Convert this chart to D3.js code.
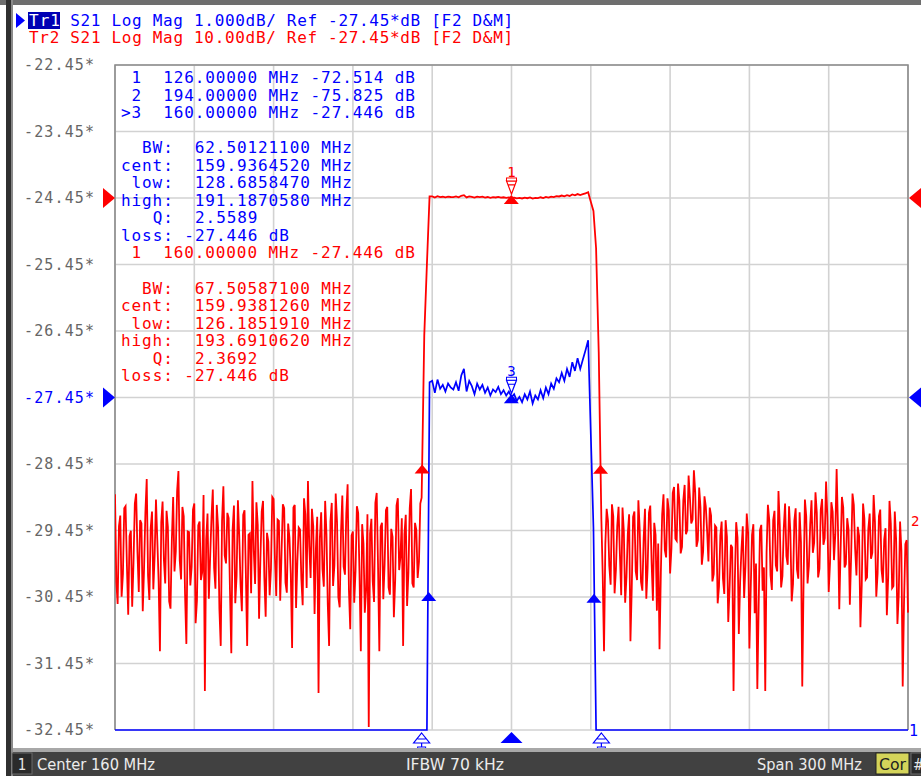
<!DOCTYPE html>
<html>
<head>
<meta charset="utf-8">
<script src="https://cdn.jsdelivr.net/npm/d3@7"></script>
<style>
body { margin: 0; background: #fff; }
svg text { white-space: pre; }
</style>
</head>
<body>
<script>
// sweep 10..310 MHz (center 160, span 300); stop bands read at 0.5 MHz, pass band at 1 MHz
var noiseStep = 0.5, passStep = 1;
var lowStart = 10, riseStart = 126, passStart = 129, fallStart = 190, highStart = 194.5;

// S21 in dB
var s21Low = [
  -72.0, -85.2, -88.5, -76.8, -75.2, -87.4, -84.0, -74.1, -73.8, -82.6,
  -90.1, -78.3, -77.5, -88.9, -82.3, -73.4, -71.9, -80.7, -86.7, -75.9,
  -76.4, -89.6, -83.1, -74.7, -69.7, -84.2, -87.9, -77.1, -74.6, -86.3,
  -81.2, -72.8, -78.8, -85.0, -95.6, -76.2, -73.1, -81.9, -85.4, -74.5,
  -76.9, -88.1, -89.2, -79.0, -72.4, -83.6, -80.6, -71.5, -68.5, -82.0,
  -84.8, -73.9, -75.3, -87.0, -94.5, -77.6, -77.7, -85.7, -82.9, -74.3,
  -73.4, -91.4, -88.0, -76.7, -76.1, -84.9, -83.7, -72.1, -101.6, -78.8,
  -74.9, -87.7, -81.5, -75.5, -71.3, -83.1, -86.2, -73.6, -77.0, -89.3,
  -94.8, -76.0, -70.8, -81.2, -82.4, -74.8, -75.6, -86.6, -95.9, -77.3,
  -73.7, -88.4, -84.3, -72.9, -78.2, -85.6, -89.6, -75.1, -74.4, -83.8,
  -94.8, -78.1, -77.9, -86.9, -70.0, -80.5, -85.5, -73.2, -76.6, -90.7,
  -81.8, -74.6, -73.0, -84.5, -90.4, -77.8, -79.1, -87.2, -83.2, -72.4,
  -72.7, -81.6, -87.3, -75.8, -76.0, -88.0, -80.9, -73.5, -74.1, -85.3,
  -86.8, -76.4, -78.5, -83.9, -95.1, -74.0, -73.6, -89.1, -82.0, -77.0,
  -77.3, -84.7, -88.7, -72.6, -75.0, -86.1, -70.0, -79.8, -84.6, -74.2,
  -76.8, -90.0, -80.2, -75.4, -101.9, -78.6, -74.7, -83.3, -85.9, -73.0,
  -78.0, -88.6, -94.8, -76.1, -73.3, -85.8, -82.7, -71.9, -76.2, -87.5,
  -89.0, -77.7, -72.2, -82.9, -84.1, -74.9, -70.5, -86.4, -92.3, -78.2,
  -77.6, -88.3, -83.5, -73.8, -74.8, -84.0, -95.6, -76.5, -79.4, -89.8,
  -86.4, -75.0, -107.0, -77.9, -75.7, -85.1, -88.2, -73.3, -71.8, -82.5,
  -95.6, -76.9, -76.3, -87.8, -82.6, -74.4, -73.9, -86.0, -87.1, -77.2,
  -78.4, -90.5, -84.9, -73.7, -72.6, -83.4, -81.4, -75.6, -94.8, -78.0,
  -75.1, -88.8, -83.8, -74.1, -71.2, -85.4, -86.0, -76.3, -77.4, -84.6,
  -82.1, -73.4
];
var s21Rise = [-72.514, -48.1, -37.4];
var s21Pass = [
  -27.22, -27.20, -27.38, -27.18, -27.32, -27.26, -27.36, -27.24, -27.30, -27.33,
  -27.22, -27.35, -27.12, -27.02, -27.36, -27.20, -27.28, -27.40, -27.24, -27.33,
  -27.26, -27.38, -27.30, -27.42, -27.33, -27.37, -27.29, -27.40, -27.34, -27.42,
  -27.36, -27.446, -27.40, -27.50, -27.44, -27.52, -27.40, -27.48, -27.36, -27.54,
  -27.42, -27.48, -27.34, -27.46, -27.30, -27.40, -27.24, -27.32, -27.16, -27.22,
  -27.08, -27.20, -27.02, -27.14, -26.92, -27.05, -26.86, -27.02, -26.88, -26.74,
  -26.59
];
var s21Fall = [-28.0, -29.4, -35.0, -50.6, -75.825];
var s21High = [
  -84.0, -95.6, -79.5, -74.2, -76.0, -82.8, -85.6, -73.5, -75.3, -86.9,
  -83.4, -76.8, -73.9, -81.0, -87.2, -74.0, -77.6, -88.3, -84.4, -77.9,
  -75.0, -94.1, -86.0, -75.4, -74.6, -83.6, -84.9, -72.9, -77.3, -85.2,
  -86.5, -78.6, -74.2, -87.7, -83.0, -74.8, -73.7, -82.2, -88.0, -76.3,
  -78.1, -89.5, -79.4, -95.3, -83.8, -75.0, -72.0, -80.4, -81.5, -72.6,
  -74.4, -83.9, -80.2, -71.8, -70.9, -78.7, -79.0, -70.4, -73.0, -80.9,
  -79.9, -72.9, -70.6, -78.0, -77.4, -69.2, -72.5, -76.4, -75.8, -68.4,
  -71.7, -79.9, -78.9, -71.0, -74.0, -82.6, -80.6, -72.3, -73.8, -77.5,
  -82.1, -74.0, -75.2, -85.1, -84.0, -76.7, -77.0, -88.4, -85.9, -78.2,
  -76.1, -84.7, -87.0, -75.9, -78.4, -91.2, -86.2, -79.6, -80.0, -101.6,
  -84.8, -76.2, -78.5, -93.0, -85.1, -80.3, -76.8, -87.6, -82.9, -74.9,
  -77.7, -95.2, -86.3, -78.1, -76.5, -89.9, -82.4, -101.3, -88.9, -77.4,
  -76.6, -86.5, -83.0, -101.6, -80.7, -73.6, -75.8, -84.2, -86.4, -75.9,
  -74.5, -82.7, -83.6, -71.5, -76.7, -86.0, -84.3, -77.1, -73.4, -81.3,
  -82.6, -73.8, -77.8, -88.1, -85.5, -76.0, -74.1, -83.3, -84.7, -74.7,
  -79.2, -100.9, -85.0, -72.8, -75.3, -85.4, -82.8, -76.5, -72.9, -80.8,
  -79.3, -71.7, -74.8, -84.5, -83.2, -74.3, -72.7, -79.6, -78.6, -70.1,
  -75.4, -86.7, -82.3, -73.2, -74.6, -81.9, -78.0, -68.2, -76.9, -89.3,
  -80.4, -72.4, -74.0, -83.0, -82.5, -75.6, -77.3, -88.6, -81.1, -71.9,
  -73.6, -80.2, -84.2, -76.9, -78.3, -92.0, -85.7, -73.4, -75.7, -84.8,
  -84.5, -77.2, -74.9, -81.7, -80.8, -72.1, -76.2, -87.4, -83.9, -75.3,
  -74.3, -83.4, -85.3, -78.8, -77.1, -90.2, -84.6, -73.0, -76.4, -86.1,
  -85.8, -74.6, -78.7, -91.5, -87.1, -76.1, -80.5, -100.9, -88.2, -79.5,
  -78.9, -89.8
];

var yTickLabels = ["-22.45*", "-23.45*", "-24.45*", "-25.45*", "-26.45*", "-27.45*",
                   "-28.45*", "-29.45*", "-30.45*", "-31.45*", "-32.45*"];

var tr1Markers = [126, 194, 160];          // marker 3 active
var tr1Bw = [128.6858470, 191.1870580, 159.9364520];
var tr2Markers = [160];
var tr2Bw = [126.1851910, 193.6910620, 159.9381260];

var headerTr1 = " S21 Log Mag 1.000dB/ Ref -27.45*dB [F2 D&M]";
var headerTr2 = "Tr2 S21 Log Mag 10.00dB/ Ref -27.45*dB [F2 D&M]";

var tr1Table = [" 1  126.00000 MHz -72.514 dB",
                " 2  194.00000 MHz -75.825 dB",
                ">3  160.00000 MHz -27.446 dB"];
var tr1BwTable = ["  BW:  62.50121100 MHz", "cent:  159.9364520 MHz", " low:  128.6858470 MHz",
                  "high:  191.1870580 MHz", "   Q:  2.5589", "loss: -27.446 dB"];
var tr2Table = [" 1  160.00000 MHz -27.446 dB"];
var tr2BwTable = ["  BW:  67.50587100 MHz", "cent:  159.9381260 MHz", " low:  126.1851910 MHz",
                  "high:  193.6910620 MHz", "   Q:  2.3692", "loss: -27.446 dB"];

var statusLeft = "Center 160 MHz";
var statusMid = "IFBW 70 kHz";
var statusRight = "Span 300 MHz";

var RED = "#ff0000", BLUE = "#0000ff";
var MONO = "'DejaVu Sans Mono', 'Liberation Mono', monospace";

var W = 921, H = 781;
var pL = 115, pR = 908, pT = 65, pB = 730;

var svg = d3.select("body").append("svg")
    .attr("width", W)
    .attr("height", H)
    .style("display", "block");

svg.append("rect").attr("width", W).attr("height", H).attr("fill", "#fff");

function seg(vals, start, step) {
    return vals.map(function (v, i) { return { f: start + i * step, v: v }; });
}
var s21 = [].concat(
    seg(s21Low, lowStart, noiseStep),
    seg(s21Rise, riseStart, passStep),
    seg(s21Pass, passStart, passStep),
    seg(s21Fall, fallStart, passStep),
    seg(s21High, highStart, noiseStep));

var x = d3.scaleLinear().domain([10, 310]).range([pL, pR]);
// Tr1: 1 dB/div, ref -27.45 at div 5
var y1 = d3.scaleLinear().domain([-32.45, -22.45]).range([pB, pT]).clamp(true);
// Tr2: 10 dB/div, ref -27.45 at div 8 (from bottom)
var y2 = d3.scaleLinear().domain([-107.45, -7.45]).range([pB, pT]).clamp(true);

var bisectF = d3.bisector(function (d) { return d.f; }).right;
function valueAt(f) {
    var i = bisectF(s21, f) - 1;
    var a = s21[i], b = s21[i + 1];
    return a.v + (f - a.f) / (b.f - a.f) * (b.v - a.v);
}

// window frame
svg.append("rect").attr("x", 0).attr("y", 0).attr("width", W).attr("height", 5).attr("fill", "#6e6e6e");
svg.append("rect").attr("x", 6).attr("y", 0).attr("width", 7).attr("height", 776).attr("fill", "#303030");
svg.append("rect").attr("x", 11).attr("y", 0).attr("width", 2).attr("height", 776).attr("fill", "#8a8a8a");

// grid
var grid = svg.append("g");
d3.range(11).forEach(function (i) {
    grid.append("line")
        .attr("x1", x(10 + 30 * i)).attr("x2", x(10 + 30 * i))
        .attr("y1", pT).attr("y2", pB)
        .attr("stroke", "#d2d2d2").attr("stroke-width", 1.6);
    grid.append("line")
        .attr("x1", pL).attr("x2", pR)
        .attr("y1", y1(-22.45 - i)).attr("y2", y1(-22.45 - i))
        .attr("stroke", "#d2d2d2").attr("stroke-width", 1.6);
});
grid.append("path")
    .attr("d", "M" + pL + "," + pB + "V" + pT + "H" + pR + "V" + pB)
    .attr("fill", "none").attr("stroke", "#8c8c8c").attr("stroke-width", 1.6);

// y tick labels
svg.append("g").selectAll("text").data(yTickLabels).join("text")
    .attr("x", 24)
    .attr("y", function (d, i) { return y1(-22.45 - i) + 5; })
    .attr("textLength", 70).attr("lengthAdjust", "spacing")
    .attr("font-family", MONO).attr("font-size", 15)
    .attr("fill", function (d, i) { return i == 5 ? BLUE : "#666"; })
    .text(function (d) { return d; });

// header
function mono(g, str, x0, y0, color, cw, size) {
    return g.append("text")
        .attr("x", x0).attr("y", y0)
        .attr("textLength", str.length * cw).attr("lengthAdjust", "spacing")
        .attr("font-family", MONO).attr("font-size", size || 16)
        .attr("fill", color).text(str);
}
svg.append("path").attr("d", "M16,13L25,20.5L16,28Z").attr("fill", BLUE);
svg.append("rect").attr("x", 28).attr("y", 12).attr("width", 32).attr("height", 17).attr("fill", "#0000b4");
mono(svg, "Tr1", 29, 26, "#fff", 10.3);
mono(svg, headerTr1, 29 + 3 * 10.3, 26, BLUE, 10.3);
mono(svg, headerTr2, 29, 43, RED, 10.3);

// marker tables
var cw = 10.5, tx = 121;
tr1Table.forEach(function (s, i) { mono(svg, s, tx, 83 + i * 17.5, BLUE, cw); });
tr1BwTable.forEach(function (s, i) { mono(svg, s, tx, 153 + i * 17.6, BLUE, cw); });
tr2Table.forEach(function (s, i) { mono(svg, s, tx, 258, RED, cw); });
tr2BwTable.forEach(function (s, i) { mono(svg, s, tx, 294 + i * 17.4, RED, cw); });

// traces
var plot = svg.append("g");
svg.append("clipPath").attr("id", "clip").append("rect")
    .attr("x", pL).attr("y", pT - 1).attr("width", pR - pL + 1).attr("height", pB - pT + 2);
plot.attr("clip-path", "url(#clip)");

var line2 = d3.line().x(function (d) { return x(d.f); }).y(function (d) { return y2(d.v); });
var line1 = d3.line().x(function (d) { return x(d.f); }).y(function (d) { return y1(d.v); });

plot.append("path").datum(s21).attr("d", line2)
    .attr("fill", "none").attr("stroke", RED).attr("stroke-width", 1.8);
plot.append("path").datum(s21).attr("d", line1)
    .attr("fill", "none").attr("stroke", BLUE).attr("stroke-width", 1.7);

// marker symbols
function upTri(g, cx, cy, color) {
    g.append("path")
        .attr("d", "M" + cx + "," + (cy - 3) + "L" + (cx + 7.5) + "," + (cy + 6) + "L" + (cx - 7.5) + "," + (cy + 6) + "Z")
        .attr("fill", color);
}
function markerFlag(g, cx, cy, color, label) {
    g.append("path")
        .attr("d", "M" + (cx - 5) + "," + (cy - 17) + "L" + (cx + 5) + "," + (cy - 17) + "L" + cx + "," + (cy - 4) + "Z" +
                   "M" + (cx - 3) + "," + (cy - 13) + "H" + (cx + 3))
        .attr("fill", "#fff").attr("stroke", color).attr("stroke-width", 1.2);
    g.append("rect").attr("x", cx - 5).attr("y", cy - 20).attr("width", 10).attr("height", 3)
        .attr("fill", "#fff").attr("stroke", color).attr("stroke-width", 1);
    g.append("text").attr("x", cx).attr("y", cy - 21).attr("text-anchor", "middle")
        .attr("font-family", MONO).attr("font-size", 14).attr("fill", color).text(label);
}
function offBottom(g, cx, color) {
    g.append("path")
        .attr("d", "M" + cx + ",733L" + (cx + 8) + ",743L" + (cx - 8) + ",743Z" +
                   "M" + (cx - 4) + ",739H" + (cx + 4) + "M" + cx + ",743V747")
        .attr("fill", "none").attr("stroke", color).attr("stroke-width", 1.2);
    g.append("rect").attr("x", cx - 4).attr("y", 747).attr("width", 8).attr("height", 3)
        .attr("fill", "none").attr("stroke", color).attr("stroke-width", 1);
}

var mk = svg.append("g");
tr2Bw.slice(0, 2).forEach(function (f) { upTri(mk, x(f), y2(valueAt(f)), RED); });
upTri(mk, x(tr2Bw[2]), y2(-27.446), RED);
tr1Bw.slice(0, 2).forEach(function (f) { upTri(mk, x(f), y1(valueAt(f)), BLUE); });
upTri(mk, x(tr1Bw[2]), y1(-27.446), BLUE);

markerFlag(mk, x(tr2Markers[0]), y2(valueAt(tr2Markers[0])), RED, "1");
markerFlag(mk, x(tr1Markers[2]), y1(valueAt(tr1Markers[2])), BLUE, "3");
offBottom(mk, x(tr1Markers[0]), BLUE);
offBottom(mk, x(tr1Markers[1]), BLUE);
mk.append("path")
    .attr("d", "M" + x(tr1Markers[2]) + ",732L" + (x(tr1Markers[2]) + 11) + ",743L" + (x(tr1Markers[2]) - 11) + ",743Z")
    .attr("fill", BLUE);

// reference level arrows
svg.append("path").attr("d", "M103," + (y2(-27.45) - 10) + "L115," + y2(-27.45) + "L103," + (y2(-27.45) + 10) + "Z").attr("fill", RED);
svg.append("path").attr("d", "M103," + (y1(-27.45) - 10) + "L115," + y1(-27.45) + "L103," + (y1(-27.45) + 10) + "Z").attr("fill", BLUE);
svg.append("path").attr("d", "M921," + (y2(-27.45) - 10) + "L909," + y2(-27.45) + "L921," + (y2(-27.45) + 10) + "Z").attr("fill", RED);
svg.append("path").attr("d", "M921," + (y1(-27.45) - 10) + "L909," + y1(-27.45) + "L921," + (y1(-27.45) + 10) + "Z").attr("fill", BLUE);

// trace end labels
svg.append("text").attr("x", 911).attr("y", 526).attr("font-family", MONO).attr("font-size", 14)
    .attr("fill", RED).text("2");
svg.append("text").attr("x", 909).attr("y", 736).attr("font-family", MONO).attr("font-size", 15)
    .attr("fill", BLUE).text("1");

// status bar
var SANS = "'DejaVu Sans Condensed', 'Liberation Sans Narrow', 'Liberation Sans', sans-serif";
svg.append("rect").attr("x", 13).attr("y", 748).attr("width", W - 13).attr("height", 4).attr("fill", "#a8a8a8");
svg.append("rect").attr("x", 13).attr("y", 752).attr("width", W - 13).attr("height", 24).attr("fill", "#414141");
svg.append("rect").attr("x", 12).attr("y", 753).attr("width", 20).attr("height", 21).attr("fill", "#2a2a2a")
    .attr("stroke", "#6a6a6a").attr("stroke-width", 1);
svg.append("text").attr("x", 22).attr("y", 770).attr("text-anchor", "middle")
    .attr("font-family", SANS).attr("font-size", 15).attr("fill", "#e8e8e8").text("1");
function status(str, x0, len) {
    svg.append("text").attr("x", x0).attr("y", 770)
        .attr("textLength", len).attr("lengthAdjust", "spacingAndGlyphs")
        .attr("font-family", SANS).attr("font-size", 15).attr("fill", "#ececec").text(str);
}
status(statusLeft, 37, 118);
status(statusMid, 406, 98);
status(statusRight, 757, 105);
svg.append("rect").attr("x", 876).attr("y", 753).attr("width", 33).attr("height", 21).attr("fill", "#d4d45a")
    .attr("stroke", "#222").attr("stroke-width", 1);
svg.append("text").attr("x", 879).attr("y", 770).attr("textLength", 27).attr("lengthAdjust", "spacingAndGlyphs")
    .attr("font-family", SANS).attr("font-size", 15).attr("fill", "#202020").text("Cor");
svg.append("rect").attr("x", 911).attr("y", 753).attr("width", 12).attr("height", 21).attr("fill", "#2a2a2a")
    .attr("stroke", "#6a6a6a").attr("stroke-width", 1);
svg.append("text").attr("x", 913).attr("y", 770).attr("font-family", SANS).attr("font-size", 15)
    .attr("fill", "#e8e8e8").text("#");
</script>
</body>
</html>
